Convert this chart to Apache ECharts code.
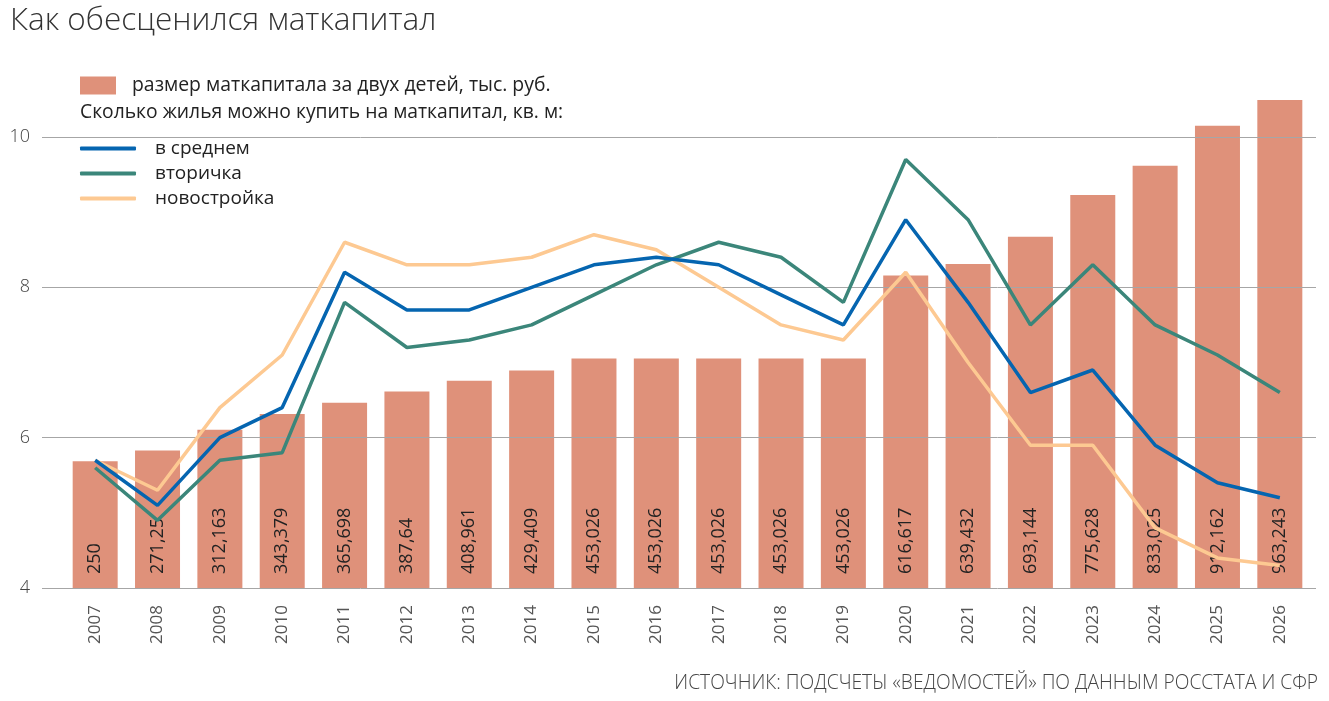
<!DOCTYPE html>
<html>
<head>
<meta charset="utf-8">
<script src="https://cdn.jsdelivr.net/npm/echarts@6/dist/echarts.min.js"></script>
<style>
  html, body { margin: 0; padding: 0; background: #fff; }
  #chart { width: 1329px; height: 701px; }
</style>
</head>
<body>
<div id="chart"></div>
<script>
var dom = document.getElementById('chart');
var myChart = echarts.init(dom);
var option;

// годы
var years = ['2007', '2008', '2009', '2010', '2011', '2012', '2013', '2014', '2015', '2016',
             '2017', '2018', '2019', '2020', '2021', '2022', '2023', '2024', '2025', '2026'];

// размер маткапитала за двух детей, тыс. руб.
var capital = [250, 271.25, 312.163, 343.379, 365.698, 387.64, 408.961, 429.409, 453.026, 453.026,
               453.026, 453.026, 453.026, 616.617, 639.432, 693.144, 775.628, 833.025, 912.162, 963.243];

// кв. м жилья на маткапитал
var avgArea = [5.7, 5.1, 6.0, 6.4, 8.2, 7.7, 7.7, 8.0, 8.3, 8.4,
               8.3, 7.9, 7.5, 8.9, 7.8, 6.6, 6.9, 5.9, 5.4, 5.2];
var secondaryArea = [5.6, 4.9, 5.7, 5.8, 7.8, 7.2, 7.3, 7.5, 7.9, 8.3,
                     8.6, 8.4, 7.8, 9.7, 8.9, 7.5, 8.3, 7.5, 7.1, 6.6];
var newArea = [5.7, 5.3, 6.4, 7.1, 8.6, 8.3, 8.3, 8.4, 8.7, 8.5,
               8.0, 7.5, 7.3, 8.2, 7.0, 5.9, 5.9, 4.8, 4.4, 4.3];

var sans = '"Open Sans", "Noto Sans", sans-serif';

option = {
    animation: false,
    backgroundColor: '#fff',
    title: [{
        text: 'Как обесценился маткапитал',
        left: 10,
        top: 5,
        padding: 0,
        textStyle: { fontFamily: sans, fontWeight: 300, fontSize: 31.5, color: '#333' }
    }, {
        text: 'Сколько жилья можно купить на маткапитал, кв. м:',
        left: 80,
        top: 103,
        padding: 0,
        textStyle: { fontFamily: sans, fontWeight: 'normal', fontSize: 19.3, color: '#222' }
    }, {
        text: 'ИСТОЧНИК: ПОДСЧЕТЫ «ВЕДОМОСТЕЙ» ПО ДАННЫМ РОССТАТА И СФР',
        right: 11,
        top: 674,
        padding: 0,
        textStyle: { fontFamily: sans, fontWeight: 300, fontSize: 19.2, color: '#444' }
    }],
    legend: [{
        data: ['размер маткапитала за двух детей, тыс. руб.'],
        left: 80,
        top: 76,
        padding: 0,
        icon: 'rect',
        itemWidth: 36,
        itemHeight: 18,
        textStyle: { fontFamily: sans, fontSize: 19.4, color: '#222', padding: [0, 0, 0, 11] }
    }, {
        data: ['в среднем', 'вторичка', 'новостройка'],
        orient: 'vertical',
        left: 80,
        top: 136,
        padding: 0,
        itemGap: 0,
        icon: 'roundRect',
        itemWidth: 56,
        itemHeight: 4,
        textStyle: { fontFamily: sans, fontSize: 19, color: '#222', lineHeight: 25, padding: [0, 0, 0, 14] }
    }],
    grid: [
        { left: 42, right: 13, top: 137, bottom: 113 },
        { left: 64, right: 18, top: 137, bottom: 113 }
    ],
    xAxis: [{
        gridIndex: 0,
        type: 'value',
        min: 0,
        max: 1,
        show: false
    }, {
        gridIndex: 1,
        type: 'category',
        data: years,
        axisLine: { show: false },
        axisTick: { show: false },
        axisLabel: {
            rotate: 90,
            margin: 17,
            fontFamily: sans,
            fontWeight: 'normal',
            fontSize: 17,
            color: '#555'
        }
    }],
    yAxis: [{
        gridIndex: 0,
        type: 'value',
        min: 4,
        max: 10,
        interval: 2,
        z: 3,
        axisLine: { show: false },
        axisTick: { show: false },
        axisLabel: { margin: 12, fontFamily: sans, fontWeight: 300, fontSize: 18, color: '#444' },
        splitLine: { lineStyle: { color: '#a6a6a6', width: 1 } }
    }, {
        gridIndex: 1,
        type: 'value',
        min: 4,
        max: 10,
        show: false
    }, {
        gridIndex: 1,
        type: 'value',
        min: 0,
        max: 890,
        show: false
    }],
    series: [{
        name: 'размер маткапитала за двух детей, тыс. руб.',
        type: 'bar',
        xAxisIndex: 1,
        yAxisIndex: 2,
        data: capital,
        barWidth: 45,
        clip: false,
        z: 1,
        itemStyle: { color: '#df917a' },
        label: {
            show: true,
            position: 'insideBottom',
            rotate: 90,
            align: 'left',
            verticalAlign: 'middle',
            distance: 14,
            fontFamily: sans,
            fontSize: 18,
            color: '#222',
            formatter: function (p) { return String(p.value).replace('.', ','); }
        }
    }, {
        name: 'в среднем',
        type: 'line',
        xAxisIndex: 1,
        yAxisIndex: 1,
        data: avgArea,
        symbol: 'none',
        z: 6,
        itemStyle: { color: '#0565b0' },
        lineStyle: { color: '#0565b0', width: 3.5 }
    }, {
        name: 'вторичка',
        type: 'line',
        xAxisIndex: 1,
        yAxisIndex: 1,
        data: secondaryArea,
        symbol: 'none',
        z: 5,
        itemStyle: { color: '#3b867a' },
        lineStyle: { color: '#3b867a', width: 3.5 }
    }, {
        name: 'новостройка',
        type: 'line',
        xAxisIndex: 1,
        yAxisIndex: 1,
        data: newArea,
        symbol: 'none',
        z: 4,
        itemStyle: { color: '#fdc992' },
        lineStyle: { color: '#fdc992', width: 3.5 }
    }]
};

myChart.setOption(option);
</script>
</body>
</html>
